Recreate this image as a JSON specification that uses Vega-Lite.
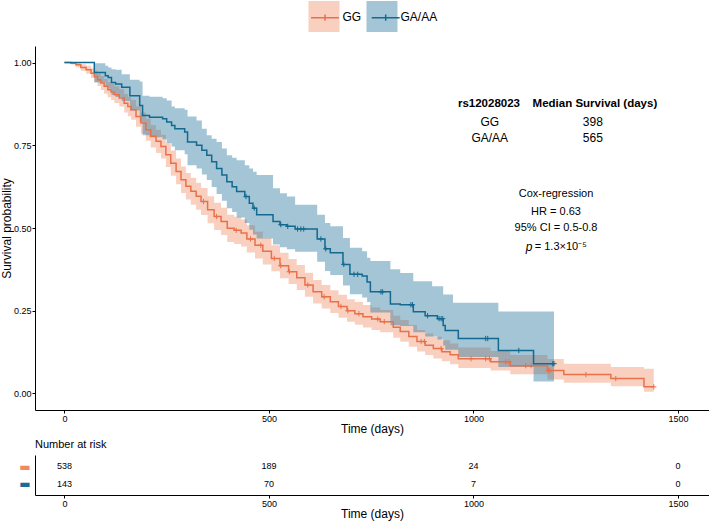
{
  "$schema": "https://vega.github.io/schema/vega-lite/v6.json",
  "padding": {"left": 0, "top": 1, "right": 0, "bottom": 4},
  "spacing": 5,
  "config": {
    "font": "Liberation Sans",
    "view": {"stroke": null},
    "axis": {
      "grid": false,
      "domainColor": "#000000",
      "domainWidth": 1,
      "tickColor": "#000000",
      "tickSize": 3,
      "labelColor": "#000000",
      "labelFontSize": 9,
      "labelPadding": 1,
      "titleColor": "#000000",
      "titleFontSize": 12,
      "titleFontWeight": "normal",
      "titlePadding": 0
    }
  },
  "datasets": {
    "km": [
      {"group": "GG", "t": 0, "s": 1, "lo": 1, "hi": 1},
      {"group": "GG", "t": 16, "s": 0.998, "lo": 0.994, "hi": 1},
      {"group": "GG", "t": 28, "s": 0.993, "lo": 0.986, "hi": 1},
      {"group": "GG", "t": 40, "s": 0.985, "lo": 0.975, "hi": 0.995},
      {"group": "GG", "t": 53, "s": 0.978, "lo": 0.966, "hi": 0.99},
      {"group": "GG", "t": 65, "s": 0.968, "lo": 0.953, "hi": 0.983},
      {"group": "GG", "t": 73, "s": 0.958, "lo": 0.941, "hi": 0.975},
      {"group": "GG", "t": 81, "s": 0.948, "lo": 0.929, "hi": 0.967},
      {"group": "GG", "t": 89, "s": 0.938, "lo": 0.917, "hi": 0.959},
      {"group": "GG", "t": 97, "s": 0.928, "lo": 0.906, "hi": 0.95},
      {"group": "GG", "t": 106, "s": 0.918, "lo": 0.895, "hi": 0.941},
      {"group": "GG", "t": 114, "s": 0.911, "lo": 0.887, "hi": 0.935},
      {"group": "GG", "t": 122, "s": 0.903, "lo": 0.878, "hi": 0.928},
      {"group": "GG", "t": 134, "s": 0.893, "lo": 0.867, "hi": 0.919},
      {"group": "GG", "t": 146, "s": 0.877, "lo": 0.849, "hi": 0.905},
      {"group": "GG", "t": 155, "s": 0.867, "lo": 0.838, "hi": 0.896},
      {"group": "GG", "t": 163, "s": 0.857, "lo": 0.827, "hi": 0.887},
      {"group": "GG", "t": 175, "s": 0.837, "lo": 0.806, "hi": 0.868},
      {"group": "GG", "t": 187, "s": 0.817, "lo": 0.785, "hi": 0.849},
      {"group": "GG", "t": 199, "s": 0.797, "lo": 0.764, "hi": 0.83},
      {"group": "GG", "t": 211, "s": 0.777, "lo": 0.743, "hi": 0.811},
      {"group": "GG", "t": 224, "s": 0.762, "lo": 0.727, "hi": 0.797},
      {"group": "GG", "t": 236, "s": 0.746, "lo": 0.71, "hi": 0.782},
      {"group": "GG", "t": 248, "s": 0.721, "lo": 0.684, "hi": 0.758},
      {"group": "GG", "t": 260, "s": 0.696, "lo": 0.658, "hi": 0.734},
      {"group": "GG", "t": 273, "s": 0.671, "lo": 0.632, "hi": 0.71},
      {"group": "GG", "t": 285, "s": 0.646, "lo": 0.606, "hi": 0.686},
      {"group": "GG", "t": 297, "s": 0.626, "lo": 0.586, "hi": 0.666},
      {"group": "GG", "t": 309, "s": 0.611, "lo": 0.57, "hi": 0.652},
      {"group": "GG", "t": 322, "s": 0.596, "lo": 0.555, "hi": 0.637},
      {"group": "GG", "t": 334, "s": 0.58, "lo": 0.539, "hi": 0.621},
      {"group": "GG", "t": 350, "s": 0.555, "lo": 0.514, "hi": 0.596},
      {"group": "GG", "t": 366, "s": 0.535, "lo": 0.494, "hi": 0.576},
      {"group": "GG", "t": 383, "s": 0.52, "lo": 0.479, "hi": 0.561},
      {"group": "GG", "t": 398, "s": 0.499, "lo": 0.458, "hi": 0.54},
      {"group": "GG", "t": 415, "s": 0.493, "lo": 0.452, "hi": 0.534},
      {"group": "GG", "t": 432, "s": 0.485, "lo": 0.444, "hi": 0.526},
      {"group": "GG", "t": 446, "s": 0.467, "lo": 0.426, "hi": 0.508},
      {"group": "GG", "t": 466, "s": 0.448, "lo": 0.408, "hi": 0.489},
      {"group": "GG", "t": 485, "s": 0.43, "lo": 0.39, "hi": 0.47},
      {"group": "GG", "t": 506, "s": 0.408, "lo": 0.369, "hi": 0.448},
      {"group": "GG", "t": 527, "s": 0.386, "lo": 0.348, "hi": 0.425},
      {"group": "GG", "t": 548, "s": 0.368, "lo": 0.331, "hi": 0.406},
      {"group": "GG", "t": 568, "s": 0.35, "lo": 0.313, "hi": 0.388},
      {"group": "GG", "t": 588, "s": 0.328, "lo": 0.292, "hi": 0.365},
      {"group": "GG", "t": 608, "s": 0.307, "lo": 0.272, "hi": 0.343},
      {"group": "GG", "t": 629, "s": 0.292, "lo": 0.257, "hi": 0.328},
      {"group": "GG", "t": 650, "s": 0.277, "lo": 0.243, "hi": 0.312},
      {"group": "GG", "t": 670, "s": 0.263, "lo": 0.229, "hi": 0.298},
      {"group": "GG", "t": 691, "s": 0.25, "lo": 0.217, "hi": 0.285},
      {"group": "GG", "t": 710, "s": 0.241, "lo": 0.208, "hi": 0.276},
      {"group": "GG", "t": 730, "s": 0.232, "lo": 0.199, "hi": 0.267},
      {"group": "GG", "t": 751, "s": 0.225, "lo": 0.192, "hi": 0.26},
      {"group": "GG", "t": 772, "s": 0.217, "lo": 0.185, "hi": 0.252},
      {"group": "GG", "t": 804, "s": 0.2, "lo": 0.168, "hi": 0.235},
      {"group": "GG", "t": 821, "s": 0.187, "lo": 0.156, "hi": 0.222},
      {"group": "GG", "t": 842, "s": 0.172, "lo": 0.141, "hi": 0.207},
      {"group": "GG", "t": 862, "s": 0.157, "lo": 0.127, "hi": 0.192},
      {"group": "GG", "t": 882, "s": 0.146, "lo": 0.116, "hi": 0.181},
      {"group": "GG", "t": 902, "s": 0.136, "lo": 0.106, "hi": 0.171},
      {"group": "GG", "t": 923, "s": 0.126, "lo": 0.097, "hi": 0.161},
      {"group": "GG", "t": 943, "s": 0.117, "lo": 0.088, "hi": 0.151},
      {"group": "GG", "t": 963, "s": 0.105, "lo": 0.077, "hi": 0.139},
      {"group": "GG", "t": 1042, "s": 0.096, "lo": 0.069, "hi": 0.128},
      {"group": "GG", "t": 1090, "s": 0.084, "lo": 0.058, "hi": 0.116},
      {"group": "GG", "t": 1181, "s": 0.069, "lo": 0.042, "hi": 0.104},
      {"group": "GG", "t": 1221, "s": 0.057, "lo": 0.032, "hi": 0.09},
      {"group": "GG", "t": 1336, "s": 0.045, "lo": 0.022, "hi": 0.08},
      {"group": "GG", "t": 1417, "s": 0.02, "lo": 0.005, "hi": 0.075},
      {"group": "GG", "t": 1441, "s": 0.02, "lo": 0.005, "hi": 0.075},
      {"group": "GA/AA", "t": 0, "s": 1, "lo": 1, "hi": 1},
      {"group": "GA/AA", "t": 73, "s": 0.97, "lo": 0.94, "hi": 0.998},
      {"group": "GA/AA", "t": 100, "s": 0.96, "lo": 0.928, "hi": 0.99},
      {"group": "GA/AA", "t": 107, "s": 0.955, "lo": 0.921, "hi": 0.985},
      {"group": "GA/AA", "t": 115, "s": 0.94, "lo": 0.902, "hi": 0.98},
      {"group": "GA/AA", "t": 125, "s": 0.935, "lo": 0.896, "hi": 0.978},
      {"group": "GA/AA", "t": 140, "s": 0.925, "lo": 0.884, "hi": 0.965},
      {"group": "GA/AA", "t": 160, "s": 0.9, "lo": 0.855, "hi": 0.948},
      {"group": "GA/AA", "t": 184, "s": 0.87, "lo": 0.82, "hi": 0.943},
      {"group": "GA/AA", "t": 191, "s": 0.84, "lo": 0.78, "hi": 0.9},
      {"group": "GA/AA", "t": 208, "s": 0.835, "lo": 0.774, "hi": 0.897},
      {"group": "GA/AA", "t": 240, "s": 0.83, "lo": 0.768, "hi": 0.892},
      {"group": "GA/AA", "t": 250, "s": 0.82, "lo": 0.757, "hi": 0.885},
      {"group": "GA/AA", "t": 262, "s": 0.81, "lo": 0.746, "hi": 0.867},
      {"group": "GA/AA", "t": 270, "s": 0.8, "lo": 0.735, "hi": 0.862},
      {"group": "GA/AA", "t": 294, "s": 0.79, "lo": 0.723, "hi": 0.857},
      {"group": "GA/AA", "t": 301, "s": 0.76, "lo": 0.69, "hi": 0.837},
      {"group": "GA/AA", "t": 323, "s": 0.75, "lo": 0.68, "hi": 0.825},
      {"group": "GA/AA", "t": 336, "s": 0.735, "lo": 0.662, "hi": 0.8},
      {"group": "GA/AA", "t": 348, "s": 0.72, "lo": 0.645, "hi": 0.78},
      {"group": "GA/AA", "t": 360, "s": 0.7, "lo": 0.624, "hi": 0.77},
      {"group": "GA/AA", "t": 372, "s": 0.68, "lo": 0.603, "hi": 0.76},
      {"group": "GA/AA", "t": 385, "s": 0.66, "lo": 0.582, "hi": 0.74},
      {"group": "GA/AA", "t": 397, "s": 0.64, "lo": 0.56, "hi": 0.72},
      {"group": "GA/AA", "t": 410, "s": 0.625, "lo": 0.548, "hi": 0.712},
      {"group": "GA/AA", "t": 421, "s": 0.61, "lo": 0.532, "hi": 0.705},
      {"group": "GA/AA", "t": 441, "s": 0.595, "lo": 0.515, "hi": 0.69},
      {"group": "GA/AA", "t": 452, "s": 0.575, "lo": 0.495, "hi": 0.68},
      {"group": "GA/AA", "t": 461, "s": 0.56, "lo": 0.48, "hi": 0.67},
      {"group": "GA/AA", "t": 470, "s": 0.54, "lo": 0.468, "hi": 0.66},
      {"group": "GA/AA", "t": 510, "s": 0.52, "lo": 0.45, "hi": 0.62},
      {"group": "GA/AA", "t": 527, "s": 0.51, "lo": 0.442, "hi": 0.605},
      {"group": "GA/AA", "t": 544, "s": 0.505, "lo": 0.436, "hi": 0.595},
      {"group": "GA/AA", "t": 564, "s": 0.497, "lo": 0.428, "hi": 0.57},
      {"group": "GA/AA", "t": 618, "s": 0.467, "lo": 0.398, "hi": 0.54},
      {"group": "GA/AA", "t": 637, "s": 0.437, "lo": 0.37, "hi": 0.515},
      {"group": "GA/AA", "t": 650, "s": 0.425, "lo": 0.358, "hi": 0.505},
      {"group": "GA/AA", "t": 681, "s": 0.39, "lo": 0.326, "hi": 0.47},
      {"group": "GA/AA", "t": 698, "s": 0.36, "lo": 0.3, "hi": 0.44},
      {"group": "GA/AA", "t": 728, "s": 0.355, "lo": 0.29, "hi": 0.43},
      {"group": "GA/AA", "t": 740, "s": 0.337, "lo": 0.276, "hi": 0.41},
      {"group": "GA/AA", "t": 748, "s": 0.307, "lo": 0.245, "hi": 0.4},
      {"group": "GA/AA", "t": 797, "s": 0.27, "lo": 0.206, "hi": 0.375},
      {"group": "GA/AA", "t": 821, "s": 0.268, "lo": 0.204, "hi": 0.364},
      {"group": "GA/AA", "t": 853, "s": 0.247, "lo": 0.185, "hi": 0.339},
      {"group": "GA/AA", "t": 882, "s": 0.235, "lo": 0.172, "hi": 0.339},
      {"group": "GA/AA", "t": 899, "s": 0.235, "lo": 0.172, "hi": 0.324},
      {"group": "GA/AA", "t": 912, "s": 0.226, "lo": 0.163, "hi": 0.324},
      {"group": "GA/AA", "t": 926, "s": 0.205, "lo": 0.145, "hi": 0.299},
      {"group": "GA/AA", "t": 931, "s": 0.19, "lo": 0.132, "hi": 0.299},
      {"group": "GA/AA", "t": 950, "s": 0.19, "lo": 0.132, "hi": 0.274},
      {"group": "GA/AA", "t": 963, "s": 0.166, "lo": 0.11, "hi": 0.274},
      {"group": "GA/AA", "t": 1061, "s": 0.13, "lo": 0.08, "hi": 0.248},
      {"group": "GA/AA", "t": 1147, "s": 0.09, "lo": 0.036, "hi": 0.248},
      {"group": "GA/AA", "t": 1197, "s": 0.09, "lo": 0.036, "hi": 0.248}
    ],
    "censor": [
      {"group": "GG", "t": 340, "s": 0.58},
      {"group": "GG", "t": 372, "s": 0.535},
      {"group": "GG", "t": 420, "s": 0.493},
      {"group": "GG", "t": 455, "s": 0.467},
      {"group": "GG", "t": 480, "s": 0.448},
      {"group": "GG", "t": 513, "s": 0.408},
      {"group": "GG", "t": 529, "s": 0.386},
      {"group": "GG", "t": 550, "s": 0.368},
      {"group": "GG", "t": 595, "s": 0.328},
      {"group": "GG", "t": 635, "s": 0.292},
      {"group": "GG", "t": 676, "s": 0.263},
      {"group": "GG", "t": 693, "s": 0.25},
      {"group": "GG", "t": 720, "s": 0.241},
      {"group": "GG", "t": 766, "s": 0.225},
      {"group": "GG", "t": 782, "s": 0.217},
      {"group": "GG", "t": 872, "s": 0.157},
      {"group": "GG", "t": 880, "s": 0.157},
      {"group": "GG", "t": 921, "s": 0.136},
      {"group": "GG", "t": 994, "s": 0.105},
      {"group": "GG", "t": 1030, "s": 0.105},
      {"group": "GG", "t": 1039, "s": 0.105},
      {"group": "GG", "t": 1079, "s": 0.096},
      {"group": "GG", "t": 1087, "s": 0.096},
      {"group": "GG", "t": 1128, "s": 0.084},
      {"group": "GG", "t": 1141, "s": 0.084},
      {"group": "GG", "t": 1183, "s": 0.069},
      {"group": "GG", "t": 1187, "s": 0.069},
      {"group": "GG", "t": 1275, "s": 0.057},
      {"group": "GG", "t": 1348, "s": 0.045},
      {"group": "GG", "t": 1441, "s": 0.02},
      {"group": "GA/AA", "t": 444, "s": 0.595},
      {"group": "GA/AA", "t": 464, "s": 0.56},
      {"group": "GA/AA", "t": 529, "s": 0.51},
      {"group": "GA/AA", "t": 546, "s": 0.505},
      {"group": "GA/AA", "t": 570, "s": 0.497},
      {"group": "GA/AA", "t": 578, "s": 0.497},
      {"group": "GA/AA", "t": 585, "s": 0.497},
      {"group": "GA/AA", "t": 627, "s": 0.467},
      {"group": "GA/AA", "t": 639, "s": 0.437},
      {"group": "GA/AA", "t": 683, "s": 0.39},
      {"group": "GA/AA", "t": 708, "s": 0.36},
      {"group": "GA/AA", "t": 717, "s": 0.36},
      {"group": "GA/AA", "t": 774, "s": 0.307},
      {"group": "GA/AA", "t": 778, "s": 0.307},
      {"group": "GA/AA", "t": 847, "s": 0.268},
      {"group": "GA/AA", "t": 851, "s": 0.268},
      {"group": "GA/AA", "t": 888, "s": 0.235},
      {"group": "GA/AA", "t": 916, "s": 0.226},
      {"group": "GA/AA", "t": 921, "s": 0.226},
      {"group": "GA/AA", "t": 925, "s": 0.226},
      {"group": "GA/AA", "t": 1030, "s": 0.166},
      {"group": "GA/AA", "t": 1035, "s": 0.166},
      {"group": "GA/AA", "t": 1111, "s": 0.13},
      {"group": "GA/AA", "t": 1194, "s": 0.09},
      {"group": "GA/AA", "t": 1197, "s": 0.09}
    ],
    "header": [
      {"t": 1038, "s": 0.875, "label": "rs12028023"},
      {"t": 1297, "s": 0.875, "label": "Median Survival (days)"}
    ],
    "medians": [
      {"t": 1040, "s": 0.821, "label": "GG"},
      {"t": 1292, "s": 0.821, "label": "398"},
      {"t": 1040, "s": 0.771, "label": "GA/AA"},
      {"t": 1292, "s": 0.771, "label": "565"}
    ],
    "cox": [
      {"t": 1202, "s": 0.604, "label": "Cox-regression"},
      {"t": 1202, "s": 0.549, "label": "HR = 0.63"},
      {"t": 1202, "s": 0.501, "label": "95% CI = 0.5-0.8"}
    ],
    "pval": [
      {"t": 1150, "s": 0.444, "label": "= 1.3×10⁻⁵"}
    ],
    "pletter": [
      {"t": 1144, "s": 0.444, "label": "p"}
    ],
    "risk": [
      {"group": "GG", "t": 0, "n": 538},
      {"group": "GG", "t": 500, "n": 189},
      {"group": "GG", "t": 1000, "n": 24},
      {"group": "GG", "t": 1500, "n": 0},
      {"group": "GA/AA", "t": 0, "n": 143},
      {"group": "GA/AA", "t": 500, "n": 70},
      {"group": "GA/AA", "t": 1000, "n": 7},
      {"group": "GA/AA", "t": 1500, "n": 0}
    ]
  },
  "vconcat": [
    {
      "width": 674,
      "height": 364,
      "layer": [
        {
          "data": {"name": "km"},
          "mark": {"type": "area", "interpolate": "step-after", "opacity": 0.4},
          "encoding": {
            "x": {
              "field": "t",
              "type": "quantitative",
              "scale": {"domain": [-72, 1576], "nice": false, "zero": false},
              "axis": {"values": [0, 500, 1000, 1500], "format": "d", "title": "Time (days)"}
            },
            "y": {
              "field": "lo",
              "type": "quantitative",
              "scale": {"domain": [-0.05, 1.05], "nice": false},
              "axis": {"values": [0, 0.25, 0.5, 0.75, 1], "format": ".2f", "title": "Survival probability"}
            },
            "y2": {"field": "hi"},
            "fill": {
              "field": "group",
              "type": "nominal",
              "scale": {"domain": ["GG", "GA/AA"], "range": ["#EF8A62", "#1B6D96"]},
              "legend": {
                "orient": "none",
                "legendX": 273.5,
                "legendY": -45,
                "direction": "horizontal",
                "title": null,
                "symbolType": "square",
                "symbolSize": 961,
                "symbolOpacity": 0.4,
                "symbolStrokeWidth": 0,
                "labelFontSize": 12,
                "labelColor": "#000000",
                "labelOffset": 3,
                "columnPadding": 5
              }
            }
          }
        },
        {
          "data": {"name": "km"},
          "mark": {"type": "line", "interpolate": "step-after", "strokeWidth": 1.5},
          "encoding": {
            "x": {"field": "t", "type": "quantitative"},
            "y": {"field": "s", "type": "quantitative"},
            "stroke": {
              "field": "group",
              "type": "nominal",
              "sort": "descending",
              "scale": {"range": ["#E8714A", "#13698F"]},
              "legend": {
                "orient": "none",
                "legendX": 273.5,
                "legendY": -45,
                "direction": "horizontal",
                "title": null,
                "symbolType": "M-0.9,0L0.9,0M0,-0.2L0,0.2",
                "symbolSize": 961,
                "symbolStrokeWidth": 1.5,
                "symbolFillColor": "transparent",
                "labelExpr": "''",
                "labelFontSize": 12,
                "labelOffset": 3,
                "columnPadding": 23.7
              }
            }
          }
        },
        {
          "data": {"name": "censor"},
          "mark": {"type": "point", "shape": "M-1,0L1,0M0,-1L0,1", "filled": false, "size": 28, "strokeWidth": 1, "opacity": 1},
          "encoding": {
            "x": {"field": "t", "type": "quantitative"},
            "y": {"field": "s", "type": "quantitative"},
            "stroke": {"field": "group", "type": "nominal", "sort": "descending", "legend": null}
          }
        },
        {
          "data": {"name": "header"},
          "mark": {"type": "text", "fontSize": 11.5, "fontWeight": "bold", "color": "#000000", "baseline": "middle"},
          "encoding": {
            "x": {"field": "t", "type": "quantitative"},
            "y": {"field": "s", "type": "quantitative"},
            "text": {"field": "label"}
          }
        },
        {
          "data": {"name": "medians"},
          "mark": {"type": "text", "fontSize": 12, "color": "#000000", "baseline": "middle"},
          "encoding": {
            "x": {"field": "t", "type": "quantitative"},
            "y": {"field": "s", "type": "quantitative"},
            "text": {"field": "label"}
          }
        },
        {
          "data": {"name": "cox"},
          "mark": {"type": "text", "fontSize": 11, "color": "#000000", "baseline": "middle"},
          "encoding": {
            "x": {"field": "t", "type": "quantitative"},
            "y": {"field": "s", "type": "quantitative"},
            "text": {"field": "label"}
          }
        },
        {
          "data": {"name": "pval"},
          "mark": {"type": "text", "fontSize": 11, "color": "#000000", "baseline": "middle", "align": "left"},
          "encoding": {
            "x": {"field": "t", "type": "quantitative"},
            "y": {"field": "s", "type": "quantitative"},
            "text": {"field": "label"}
          }
        },
        {
          "data": {"name": "pletter"},
          "mark": {"type": "text", "fontSize": 12, "fontStyle": "italic", "color": "#000000", "baseline": "middle", "align": "right"},
          "encoding": {
            "x": {"field": "t", "type": "quantitative"},
            "y": {"field": "s", "type": "quantitative"},
            "text": {"field": "label"}
          }
        }
      ]
    },
    {
      "width": 674,
      "height": 40,
      "title": {"text": "Number at risk", "anchor": "start", "frame": "group", "fontSize": 11, "fontWeight": "normal", "color": "#000000", "offset": 5},
      "data": {"name": "risk"},
      "mark": {"type": "text", "fontSize": 9, "color": "#000000", "baseline": "middle"},
      "encoding": {
        "x": {
          "field": "t",
          "type": "quantitative",
          "scale": {"domain": [-72, 1576], "nice": false, "zero": false},
          "axis": {"values": [0, 500, 1000, 1500], "format": "d", "title": "Time (days)"}
        },
        "y": {
          "field": "group",
          "type": "nominal",
          "scale": {"type": "point", "domain": ["GG", "GA/AA"], "padding": 0.65},
          "axis": {
            "title": null,
            "ticks": false,
            "labelExpr": "'▬'",
            "labelFont": "DejaVu Sans",
            "labelFontSize": 12,
            "labelPadding": 5,
            "labelColor": {"condition": {"test": "datum.value === 'GG'", "value": "#EF8A62"}, "value": "#1B6D96"}
          }
        },
        "text": {"field": "n", "type": "quantitative"}
      }
    }
  ]
}
